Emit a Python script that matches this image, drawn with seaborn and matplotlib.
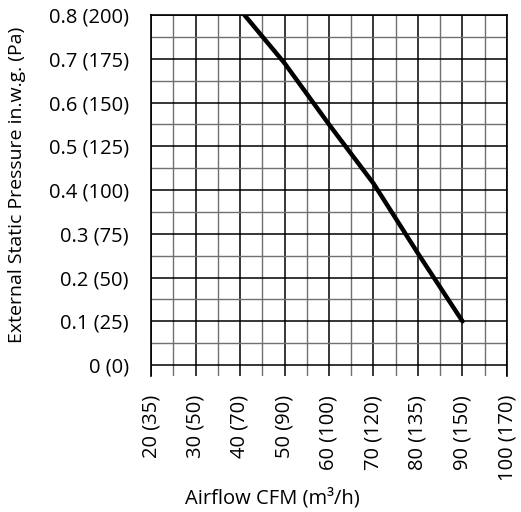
import numpy as np
import pandas as pd
import matplotlib
matplotlib.use('Agg')
import matplotlib.pyplot as plt
import seaborn as sns
from matplotlib.ticker import MultipleLocator

# curve
airflow_cfm = [41, 50, 60, 70, 80, 90]
pressure_inwg = [0.80, 0.69, 0.55, 0.415, 0.255, 0.10]

x_ticks = [20, 30, 40, 50, 60, 70, 80, 90, 100]
x_tick_labels = ['20 (35)', '30 (50)', '40 (70)', '50 (90)', '60 (100)',
                 '70 (120)', '80 (135)', '90 (150)', '100 (170)']
y_ticks = [0, 0.1, 0.2, 0.3, 0.4, 0.5, 0.6, 0.7, 0.8]
y_tick_labels = ['0 (0)', '0.1 (25)', '0.2 (50)', '0.3 (75)', '0.4 (100)',
                 '0.5 (125)', '0.6 (150)', '0.7 (175)', '0.8 (200)']

sns.set_theme(style='white')
plt.rcParams['font.family'] = ['Open Sans', 'DejaVu Sans']
plt.rcParams['text.color'] = 'black'
plt.rcParams['axes.labelcolor'] = 'black'
plt.rcParams['xtick.color'] = 'black'
plt.rcParams['ytick.color'] = 'black'

df = pd.DataFrame({'cfm': airflow_cfm, 'pressure': pressure_inwg})

fig = plt.figure(figsize=(5.21, 5.12), dpi=100)
ax = fig.add_axes([151 / 521, 1 - 376 / 512, 356 / 521, 361 / 512])

sns.lineplot(data=df, x='cfm', y='pressure', ax=ax, color='black',
             linewidth=3.2, zorder=5)

ax.set_xlim(20, 100)
ax.set_ylim(-0.025, 0.8)
ax.set_xticks(x_ticks)
ax.set_xticklabels(x_tick_labels, rotation=90, va='top', ha='center', fontsize=14.5)
ax.set_yticks(y_ticks)
ax.set_yticklabels(y_tick_labels, fontsize=14.5)
ax.xaxis.set_minor_locator(MultipleLocator(5))
ax.yaxis.set_minor_locator(MultipleLocator(0.05))

ax.grid(True, which='major', color='black', linewidth=1.1)
ax.grid(True, which='minor', color='#707070', linewidth=1.0)
ax.set_axisbelow(True)

ax.tick_params(axis='x', which='both', length=0, pad=13.5)
ax.tick_params(axis='y', which='both', length=0, pad=16)

for side in ['left', 'top', 'right']:
    ax.spines[side].set_color('black')
    ax.spines[side].set_linewidth(1.2)
ax.spines['bottom'].set_visible(False)

ax.set_xlabel('Airflow CFM (m³/h)', fontsize=14.5)
ax.set_ylabel('External Static Pressure in.w.g. (Pa)', fontsize=14)
ax.xaxis.set_label_coords(0.34, -0.31)
ax.yaxis.set_label_coords(-0.35, 0.53)

fig.savefig('out.png', dpi=100)
